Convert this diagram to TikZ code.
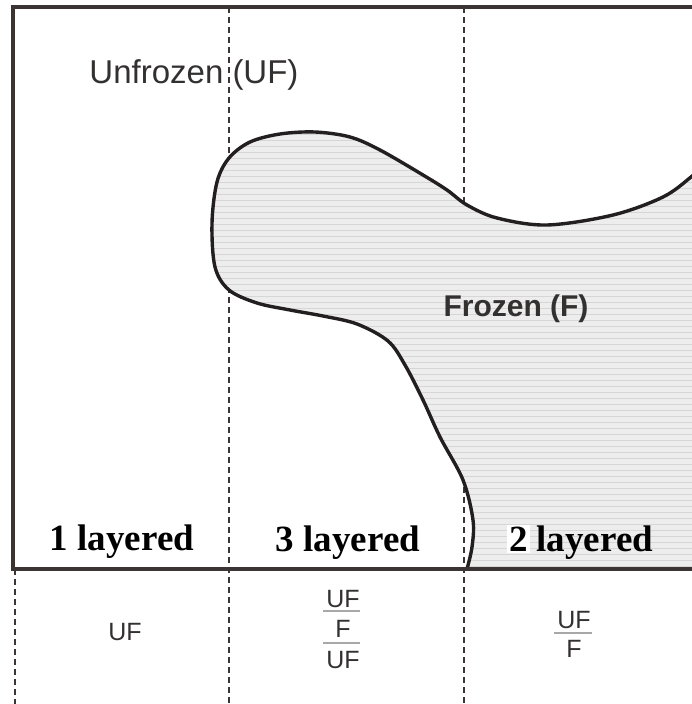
\documentclass[tikz,border=0pt]{standalone}
\usepackage{fontspec}
\setmainfont{Liberation Serif}
\newfontfamily\sansf{Liberation Sans}
\usetikzlibrary{patterns.meta}
\definecolor{framec}{HTML}{3A3432}
\definecolor{outlc}{HTML}{231F20}
\definecolor{txtc}{HTML}{333030}
\definecolor{fracc}{HTML}{A8A8A8}
\begin{document}
\begin{tikzpicture}[x=1pt,y=-1pt,
  framel/.style={line width=3.2pt, draw=framec},
  dashl/.style={line width=2.6pt, draw=framec, dash pattern=on 6pt off 4pt},
  outl/.style={line width=3.4pt, draw=outlc, line join=round},
  frozenfill/.style={fill=black!7, postaction={pattern={Lines[angle=0,distance=6pt,line width=0.9pt]}, pattern color=black!16}},
  biglbl/.style={font=\sansf\fontsize{33}{36}\selectfont, text=txtc, inner sep=0pt, anchor=base},
  frlbl/.style={font=\sansf\bfseries\fontsize{30}{34}\selectfont, text=txtc, inner sep=0pt, anchor=base},
  laylbl/.style={font=\bfseries\fontsize{37}{40}\selectfont, text=black, inner sep=0pt, anchor=base},
  smalllbl/.style={font=\sansf\fontsize{25}{28}\selectfont, text=txtc, inner sep=0pt, anchor=base},
  fracl/.style={line width=2pt, draw=fracc}]
\useasboundingbox (0,0) rectangle (691,704);
% dashed column separators
\coordinate (d0t) at (15,569);  \coordinate (d0b) at (15,704);
\coordinate (d1t) at (229,7);   \coordinate (d1b) at (229,704);
\coordinate (d2t) at (464,7);   \coordinate (d2b) at (464,704);
\draw[dashl] (d0t) -- (d0b);
\draw[dashl] (d1t) -- (d1b);
\draw[dashl] (d2t) -- (d2b);
% frozen region
\path[frozenfill] plot[smooth, tension=0.55] coordinates {
 (467,569) (472,547) (473,520) (463,480) (440,437) (423,400) (405,365) (388,341)
 (357,324) (323,316) (290,310) (257,303) (229,290) (215,267) (212,223) (217,182)
 (229,158) (250,142) (280,134) (315,132) (350,137) (380,150) (423,175) (447,190)
 (467,205) (497,218) (547,225) (613,215) (663,197) (691,177) (700,168)}
 -- (700,569) -- cycle;
\draw[outl] plot[smooth, tension=0.55] coordinates {
 (467,569) (472,547) (473,520) (463,480) (440,437) (423,400) (405,365) (388,341)
 (357,324) (323,316) (290,310) (257,303) (229,290) (215,267) (212,223) (217,182)
 (229,158) (250,142) (280,134) (315,132) (350,137) (380,150) (423,175) (447,190)
 (467,205) (497,218) (547,225) (613,215) (663,197) (691,177) (700,168)};
% frame
\coordinate (tr) at (700,7); \coordinate (tl) at (13,7);
\coordinate (bl) at (13,569); \coordinate (br) at (700,569);
\draw[framel] (tr) -- (tl) -- (bl) -- (br);
% labels
\node[biglbl] (uf) at (194,83) {Unfrozen (UF)};
\node[frlbl] (fz) at (516,316) {Frozen (F)};
\node[laylbl] (l1) at (122,550) {1 layered};
\node[laylbl] (l3) at (348,551) {3 layered};
\node[laylbl] (l2) at (580,551) {{\setlength{\fboxsep}{2pt}\colorbox{white}{2}}\hspace{7pt}layered};
% bottom compositions
\node[smalllbl] (b1) at (125,640) {UF};
\node[smalllbl] (b3a) at (343,607) {UF};
\node[smalllbl] (b3b) at (343,637) {F};
\node[smalllbl] (b3c) at (343,668) {UF};
\coordinate (f3al) at (323,611); \coordinate (f3ar) at (360,611);
\coordinate (f3bl) at (323,643); \coordinate (f3br) at (360,643);
\draw[fracl] (f3al) -- (f3ar);
\draw[fracl] (f3bl) -- (f3br);
\node[smalllbl] (b2a) at (574,628) {UF};
\node[smalllbl] (b2b) at (574,657) {F};
\coordinate (f2l) at (554,633); \coordinate (f2r) at (592,633);
\draw[fracl] (f2l) -- (f2r);
\end{tikzpicture}
\end{document}
